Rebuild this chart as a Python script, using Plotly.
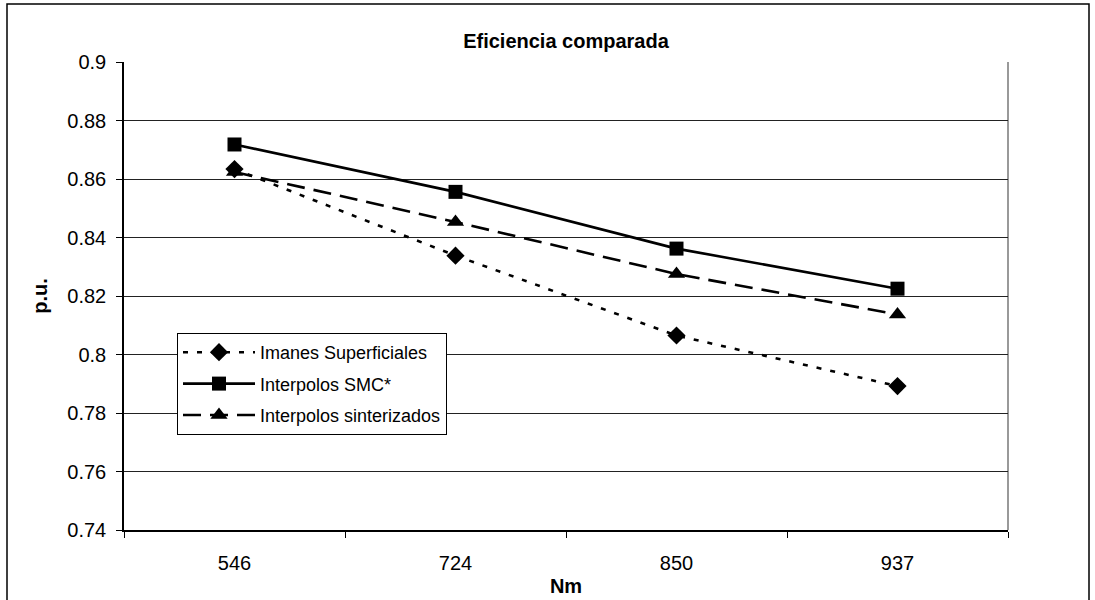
import plotly.graph_objects as go

# Torque operating points (category axis) and efficiency per motor design
torque_labels = ["546", "724", "850", "937"]
imanes_superficiales = [0.8634, 0.8338, 0.8065, 0.7892]
interpolos_smc = [0.8718, 0.8556, 0.8362, 0.8225]
interpolos_sinterizados = [0.8624, 0.8453, 0.8275, 0.8137]
y_ticks = [0.74, 0.76, 0.78, 0.8, 0.82, 0.84, 0.86, 0.88, 0.9]
y_tick_text = ["0.74", "0.76", "0.78", "0.8", "0.82", "0.84", "0.86", "0.88", "0.9"]

FONT = "Liberation Sans, Arial, sans-serif"

fig = go.Figure()

fig.add_trace(go.Scatter(
    x=torque_labels, y=imanes_superficiales, name="Imanes Superficiales",
    mode="lines+markers", legendgroup="a",
    line=dict(color="black", width=2.6, dash="5px,9px"),
    marker=dict(symbol="diamond", size=14, color="black"),
))
fig.add_trace(go.Scatter(
    x=torque_labels, y=interpolos_smc, name="Interpolos SMC*",
    mode="lines+markers", legendgroup="b",
    line=dict(color="black", width=2.6),
    marker=dict(symbol="square", size=14, color="black"),
))
fig.add_trace(go.Scatter(
    x=torque_labels, y=interpolos_sinterizados, name="Interpolos sinterizados",
    mode="lines+markers", legendgroup="c",
    line=dict(color="black", width=2.6, dash="18px,9px"),
    marker=dict(symbol="triangle-up", size=15, color="black"),
))

L, R, T, B = 124, 87, 62, 70
W, H = 1095, 600
pw, ph = W - L - R, H - T - B

fig.update_layout(
    width=W, height=H,
    margin=dict(l=L, r=R, t=T, b=B, pad=0),
    paper_bgcolor="white", plot_bgcolor="white",
    font=dict(family=FONT, size=20, color="black"),
    title=dict(text="<b>Eficiencia comparada</b>", x=(L + pw / 2) / W, xanchor="center",
               y=1 - 41 / H, yanchor="middle", font=dict(size=20, family=FONT)),
    showlegend=True,
    legend=dict(
        x=(177 - L) / pw, y=(530 - 333) / ph, xanchor="left", yanchor="top",
        bordercolor="black", borderwidth=1, bgcolor="white",
        font=dict(size=18, family=FONT), itemwidth=72, tracegroupgap=5,
    ),
    xaxis=dict(
        type="category", range=[-0.5, 3.5], tickson="boundaries", automargin=False,
        ticks="outside", ticklen=6, tickcolor="black", tickwidth=1,
        showgrid=False, showline=True, linecolor="black", linewidth=1.5,
        tickfont=dict(size=20), zeroline=False, ticklabelstandoff=14,
        title=dict(text="<b>Nm</b>", font=dict(size=20), standoff=6),
    ),
    yaxis=dict(
        range=[0.74, 0.9], tickvals=y_ticks, ticktext=y_tick_text, automargin=False,
        ticks="outside", ticklen=6, tickcolor="black", tickwidth=1,
        showgrid=True, gridcolor="#222222", gridwidth=1,
        showline=True, linecolor="black", linewidth=1.5,
        tickfont=dict(size=20), zeroline=False, ticklabelstandoff=6,
        title=dict(text="<b>p.u.</b>", font=dict(size=20), standoff=14),
    ),
)

# Plot-area frame (gray) and outer chart border
fig.add_shape(type="line", xref="paper", yref="paper", x0=1, x1=1, y0=0, y1=1,
              line=dict(color="#999999", width=2), layer="below")
fig.add_shape(type="rect", xref="paper", yref="paper",
              x0=(7 - L) / pw, x1=(1089 - L) / pw,
              y0=(T + ph - 640) / ph, y1=(T + ph - 4) / ph,
              line=dict(color="black", width=1.5), fillcolor="rgba(0,0,0,0)")

fig.write_html("out.html")
